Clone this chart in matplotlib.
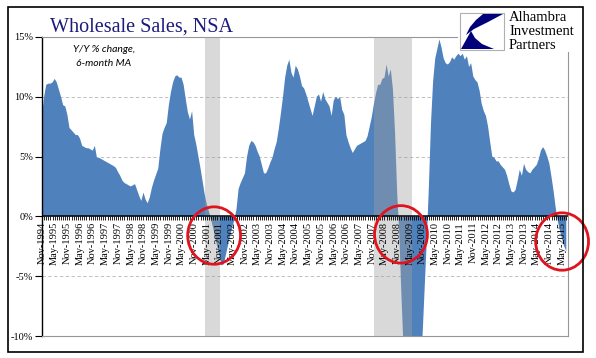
import matplotlib
matplotlib.use('Agg')
import matplotlib.pyplot as plt
import numpy as np
import pandas as pd
from matplotlib.patches import Ellipse, Rectangle, Polygon

# ---------------- data ----------------
start_month = '1994-11'
yoy_6m_ma = [
    8.4, 10.0, 11.0, 11.1, 11.1, 11.2, 11.5, 11.2, 10.6, 10.0,   # 0-9
    9.3, 9.2, 8.5, 7.4, 7.2, 7.0, 6.8, 6.8, 6.5, 5.9,            # 10-19
    5.8, 5.7, 5.7, 5.6, 5.5, 5.9, 4.9, 4.9, 4.8, 4.7,            # 20-29
    4.6, 4.5, 4.4, 4.3, 4.2, 4.05, 3.7, 3.4, 3.0, 2.8,           # 30-39
    2.7, 2.6, 2.5, 2.6, 2.7, 2.2, 1.7, 1.3, 2.0, 1.4,            # 40-49
    1.1, 1.6, 2.4, 3.0, 3.5, 4.0, 5.6, 6.9, 7.4, 7.8,            # 50-59
    9.3, 10.4, 11.2, 11.7, 11.8, 11.6, 11.6, 11.0, 9.8, 8.7,     # 60-69
    8.1, 8.8, 6.8, 6.0, 5.0, 4.0, 2.9, 1.8, 1.0, 0.4,            # 70-79
    -0.3, -1.0, -1.8, -2.6, -3.4, -4.1, -4.0, -3.2, -2.4, -1.6,  # 80-89
    -0.9, -0.3, 0.6, 2.3, 2.8, 3.2, 3.6, 5.0, 5.9, 6.3,          # 90-99
    6.2, 5.9, 5.4, 5.0, 4.3, 3.6, 3.6, 4.0, 4.5, 4.9,            # 100-109
    5.6, 6.2, 7.3, 8.6, 10.0, 11.6, 12.6, 13.1, 12.0, 11.6,      # 110-119
    12.6, 12.3, 11.7, 10.9, 10.7, 10.2, 9.6, 9.0, 8.4, 9.2,      # 120-129
    10.0, 10.2, 9.6, 10.4, 9.8, 9.5, 9.2, 8.4, 9.7, 10.0,        # 130-139
    9.8, 10.0, 8.9, 8.5, 6.8, 6.2, 5.7, 5.3, 5.6, 5.9,           # 140-149
    6.0, 6.1, 6.2, 6.3, 6.7, 7.5, 8.3, 9.4, 10.3, 11.0,          # 150-159
    11.0, 11.5, 11.6, 12.7, 11.7, 12.3, 10.6, 7.0, 2.0, -1.5,    # 160-169
    -6.5, -11.0, -14.0, -16.0, -17.0, -17.5, -17.0, -16.0, -14.5, -12.5,  # 170-179
    -10.0, -6.0, -2.0, 2.5, 7.8, 11.3, 13.2, 14.0, 14.8, 14.1,   # 180-189
    13.2, 12.8, 12.7, 12.9, 13.3, 13.1, 13.4, 13.6, 13.4, 13.6,  # 190-199
    13.1, 13.4, 12.5, 12.8, 11.7, 11.4, 11.2, 10.5, 9.4, 8.8,    # 200-209
    8.4, 7.5, 6.2, 5.0, 4.9, 4.6, 4.6, 4.3, 4.1, 3.9,            # 210-219
    3.4, 2.7, 2.1, 2.0, 2.2, 3.0, 3.9, 3.4, 4.4, 3.9,            # 220-229
    3.7, 3.6, 3.9, 4.1, 4.3, 4.8, 5.5, 5.8, 5.5, 5.0,            # 230-239
    4.4, 3.3, 2.1, 0.7, -0.4, -1.2, -1.9, -2.5, -2.9,            # 240-248
]
# recessions (month indices from Nov-1994): Apr-2001..Nov-2001, Dec-2007..Jun-2009
recession_start = [77, 157]
recession_end = [84, 175]
# spots circled in red (month index, % level)
circled_months = [81.4, 169.8, 246.0]
circled_levels = [-1.6, -1.5, -2.1]

y_ticks = [-10, -5, 0, 5, 10, 15]

# ---------------- figure ----------------
W, H = 596, 358
fig = plt.figure(figsize=(W / 100, H / 100), dpi=100)
fig.patch.set_facecolor('white')
ax = fig.add_axes([42 / W, 1 - 336 / H, (568 - 42) / W, (336 - 37) / H])

vals = np.array(yoy_6m_ma)
months = np.arange(len(vals))
dates = pd.date_range(start_month, periods=len(vals), freq='MS')
label_idx = months[::6]
labels = [dates[i].strftime('%b-%Y') for i in label_idx]

serif = ['Liberation Serif', 'DejaVu Serif']

for y in [5, 10, -5]:
    ax.axhline(y, color='#b4b4b4', lw=0.6, ls=(0, (4, 3)), zorder=1)

ax.fill_between(months, 0, vals, color='#4F81BD', lw=0, zorder=2)

for s, e in zip(recession_start, recession_end):
    ax.axvspan(s, e, color='#a0a0a0', alpha=0.4, lw=0, zorder=3)

ax.axhline(0, color='black', lw=1.1, zorder=4)
ax.vlines(months, -0.33, 0, color='black', lw=0.6, zorder=4)

for i, lab in zip(label_idx, labels):
    ax.annotate(lab, xy=(i, 0), xytext=(0, -4), textcoords='offset points',
                rotation=90, ha='center', va='top', fontsize=7.5,
                family=serif, color='black', zorder=6)

for m, lv in zip(circled_months, circled_levels):
    ax.add_patch(Ellipse((m, lv), 25, 4.8, fill=False, ec='#e0141e',
                         lw=2.0, clip_on=False, zorder=7))

ax.set_xlim(0, 248.8)
ax.set_ylim(-10, 15)
ax.set_xticks([])
ax.set_yticks(y_ticks)
ax.set_yticklabels([f'{v}%' for v in y_ticks], family=serif, fontsize=7.5)
ax.tick_params(axis='y', direction='out', length=5, width=0.8, pad=1.5, colors='black')
for side in ['top', 'right', 'bottom']:
    ax.spines[side].set_color('#969696')
    ax.spines[side].set_linewidth(0.8)
ax.spines['left'].set_color('black')
ax.spines['left'].set_linewidth(1.0)

# ---------------- title & notes ----------------
def P(x, y):
    return (x / W, 1 - y / H)

fig.text(*P(50, 32), 'Wholesale Sales, NSA', family=serif, fontsize=14.5,
         color='#1b1b7d', va='baseline', ha='left')
fig.text(*P(104, 50), 'Y/Y % change,', family=['Lato', 'DejaVu Sans'], style='italic',
         fontsize=7.5, ha='center', va='center')
fig.text(*P(104, 63), '6-month MA', family=['Lato', 'DejaVu Sans'], style='italic',
         fontsize=7.5, ha='center', va='center')

# ---------------- logo ----------------
fig.add_artist(Rectangle(P(458, 52), (582 - 458) / W, (52 - 9) / H,
                         transform=fig.transFigure, fc='white', ec='none', zorder=1))
fig.add_artist(Rectangle(P(460, 50), 44 / W, 37 / H, transform=fig.transFigure,
                         fc='white', ec='#b0b0b0', lw=0.8, zorder=2))
blade = [P(483, 14), P(503, 14), P(488, 22), P(474, 29), P(466, 35), P(470, 27), P(476, 20)]
fig.add_artist(Polygon(blade, closed=True, transform=fig.transFigure,
                       fc='#00007a', ec='none', zorder=3))
wedge = [P(471, 31), P(461, 49), P(494, 49), P(482, 44), P(475, 38)]
fig.add_artist(Polygon(wedge, closed=True, transform=fig.transFigure,
                       fc='#00007a', ec='none', zorder=3))
fig.text(*P(509, 49), 'Alhambra\nInvestment\nPartners', family=serif, fontsize=10.5,
         va='baseline', ha='left', color='black', linespacing=1.12, zorder=4)

# outer frame
fig.add_artist(Rectangle(P(8, 352), 575 / W, 345 / H, transform=fig.transFigure,
                         fill=False, ec='black', lw=1.2, zorder=5))

fig.savefig('out.png', dpi=100)
